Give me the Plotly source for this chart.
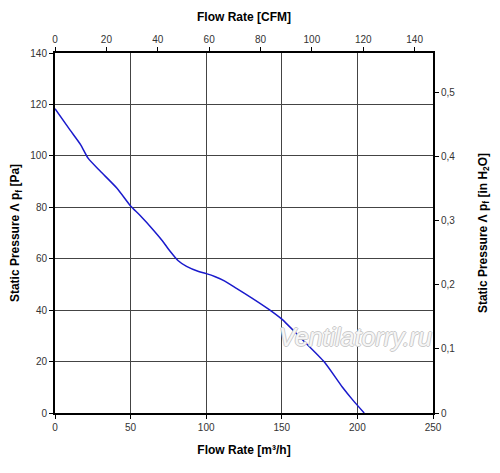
import plotly.graph_objects as go

flow_m3h = [0, 10, 17, 22, 30, 41, 50, 56, 65, 71, 76, 81.5, 87, 95, 100, 106, 112, 120, 130, 141, 150, 164, 178, 190, 197, 204.5]
pressure_pa = [118.3, 110, 104.3, 99, 94, 87.4, 80.5, 77, 71.2, 67, 63, 59.2, 57, 55, 54.2, 53, 51.4, 48.5, 44.8, 40.5, 36.5, 28.3, 19.9, 10.1, 5, 0]

x_max_m3h = 250
y_max_pa = 140
m3h_per_cfm = 1.699
pa_per_inh2o = 249.09

fig = go.Figure()
fig.add_trace(go.Scatter(x=flow_m3h, y=pressure_pa, mode="lines",
                         line=dict(color="#1a1acc", width=1.5, shape="spline", smoothing=0.6),
                         showlegend=False, hoverinfo="skip"))
# dummy trace for secondary axes
fig.add_trace(go.Scatter(x=[0], y=[0], xaxis="x2", yaxis="y2", mode="markers",
                         marker=dict(opacity=0), showlegend=False, hoverinfo="skip"))

tickfont = dict(family="Liberation Sans, Arial", size=10, color="#333333")
titlefont = dict(family="Liberation Sans, Arial", size=12, color="#000000", weight="bold")

common = dict(showline=True, linecolor="black", linewidth=2, ticks="outside", ticklen=4,
              tickcolor="black", tickfont=tickfont, zeroline=False, automargin=False)

fig.update_layout(
    template="none",
    width=492, height=465,
    margin=dict(l=47, r=67, t=45, b=60, pad=0),
    paper_bgcolor="white", plot_bgcolor="white",
    separators=", ",
    xaxis=dict(range=[0, x_max_m3h], dtick=50, tick0=0, showgrid=True, gridcolor="#444444", gridwidth=1,
               title=dict(text="Flow Rate [m³/h]", font=titlefont, standoff=14), **common),
    xaxis2=dict(range=[0, x_max_m3h / m3h_per_cfm], dtick=20, tick0=0, overlaying="x", side="top",
                showgrid=False, anchor="y",
                title=dict(text="Flow Rate [CFM]", font=titlefont, standoff=10), **common),
    yaxis=dict(range=[0, y_max_pa], dtick=20, tick0=0, showgrid=True, gridcolor="#444444", gridwidth=1,
               title=dict(text="Static Pressure Λ p<sub>f</sub> [Pa]", font=titlefont, standoff=10), **common),
    yaxis2=dict(range=[0, y_max_pa / pa_per_inh2o], dtick=0.1, tick0=0, overlaying="y", side="right",
                showgrid=False, anchor="x", tickformat=".1~f",
                title=dict(text="Static Pressure Λ p<sub>f</sub> [in H<sub>2</sub>O]", font=titlefont, standoff=24),
                **common),
    annotations=[dict(text="<i>Ventilatorry.ru</i>", x=0.796, y=0.21, xref="paper", yref="paper",
                      xanchor="center", yanchor="middle", showarrow=False,
                      font=dict(family="Liberation Sans, Arial", size=25, color="rgba(250,250,250,0.95)",
                                shadow="1px 0 0 #c8c8c8, -1px 0 0 #c8c8c8, 0 1px 0 #c8c8c8, 0 -1px 0 #c8c8c8"))],
)

fig.write_html("out.html")
